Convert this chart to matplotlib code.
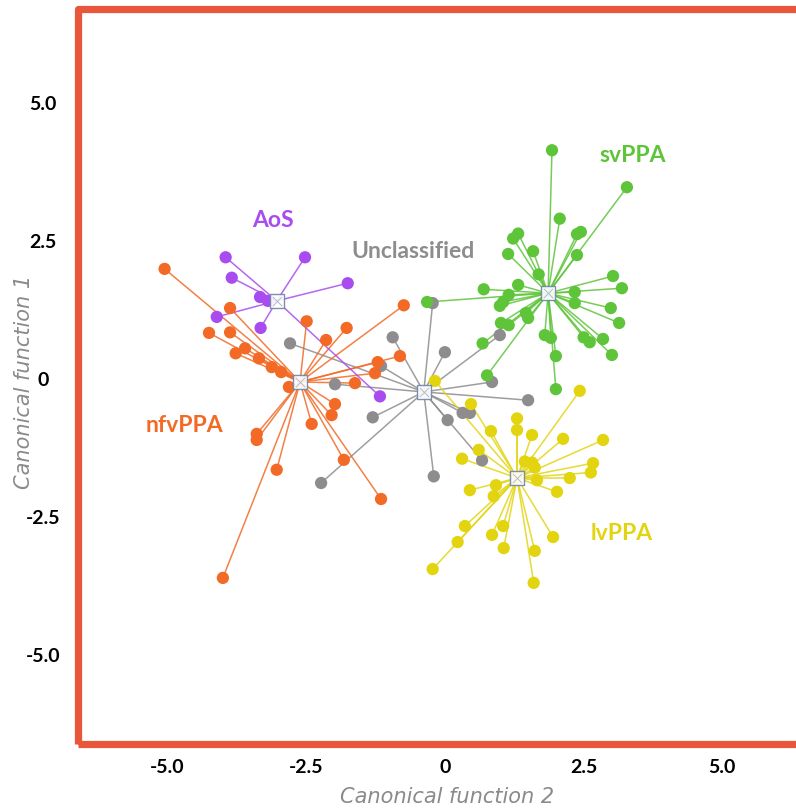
import numpy as np
import matplotlib
matplotlib.use("Agg")
import matplotlib.pyplot as plt
from matplotlib.patches import Rectangle

# group centroids (canonical function 2, canonical function 1)
centroids = {
    "AoS": (-3.03, 1.41),
    "nfvPPA": (-2.61, -0.06),
    "Unclassified": (-0.38, -0.24),
    "svPPA": (1.86, 1.55),
    "lvPPA": (1.30, -1.80),
}

aos_x = [-3.95, -2.52, -3.84, -3.33, -3.19, -4.11, -3.32, -1.75, -1.17]
aos_y = [2.20, 2.20, 1.83, 1.48, 1.41, 1.12, 0.92, 1.73, -0.32]

nfv_x = [-5.05, -3.87, -2.49, -4.25, -3.87, -3.60, -3.77, -3.35, -3.12, -2.95,
         -2.81, -1.77, -2.14, -0.74, -0.81, -1.21, -1.26, -1.62, -1.98, -2.04,
         -2.40, -3.39, -3.39, -3.03, -1.82, -1.15, -4.00]
nfv_y = [1.99, 1.28, 1.04, 0.83, 0.84, 0.55, 0.46, 0.37, 0.21, 0.12,
         -0.15, 0.92, 0.70, 1.33, 0.41, 0.30, 0.10, -0.08, -0.46, -0.66,
         -0.82, -1.00, -1.11, -1.65, -1.47, -2.18, -3.61]

unc_x = [-0.22, -0.94, 0.00, -2.79, -1.15, -1.98, 0.99, 0.85, 1.50, -1.30,
         0.05, 0.32, 0.45, 0.67, -0.20, -2.23]
unc_y = [1.37, 0.75, 0.48, 0.64, 0.23, -0.10, 0.79, -0.06, -0.39, -0.70,
         -0.75, -0.62, -0.62, -1.48, -1.77, -1.89]

sv_x = [1.93, 3.28, 2.07, 1.32, 1.23, 2.38, 2.45, 1.59, 1.14, 2.38,
        1.69, 3.03, 3.19, 0.70, 1.32, 1.15, 1.05, 0.99, 2.34, 2.34,
        2.99, 3.14, 1.46, 1.50, 1.01, 1.15, 0.68, 1.80, 1.91, 2.50,
        2.61, 2.85, 3.01, 2.00, 0.76, 2.00, -0.32]
sv_y = [4.14, 3.47, 2.90, 2.63, 2.54, 2.62, 2.66, 2.31, 2.26, 2.24,
        1.89, 1.86, 1.64, 1.62, 1.70, 1.52, 1.39, 1.32, 1.57, 1.37,
        1.28, 1.01, 1.19, 1.10, 1.01, 0.97, 0.64, 0.79, 0.74, 0.75,
        0.66, 0.72, 0.43, 0.41, 0.06, -0.19, 1.39]

lv_x = [2.43, 0.47, 1.30, 1.30, 0.83, 1.57, 2.13, 2.85, 0.61, 0.31,
        1.44, 1.57, 1.62, 2.67, 2.63, 2.25, 1.66, 2.02, 0.92, 0.88,
        0.45, 0.36, 1.05, 0.85, 1.95, 0.23, 1.06, 1.62, -0.22, 1.60, -0.18]
lv_y = [-0.22, -0.46, -0.72, -0.93, -0.95, -1.02, -1.09, -1.11, -1.29, -1.45,
        -1.50, -1.52, -1.61, -1.53, -1.70, -1.80, -1.84, -2.05, -1.93, -2.13,
        -2.02, -2.67, -2.67, -2.83, -2.87, -2.96, -3.07, -3.12, -3.45, -3.70, -0.04]

groups = [
    ("Unclassified", unc_x, unc_y, "#8f8c8f"),
    ("nfvPPA", nfv_x, nfv_y, "#f26a25"),
    ("AoS", aos_x, aos_y, "#a84cf0"),
    ("svPPA", sv_x, sv_y, "#5ec43a"),
    ("lvPPA", lv_x, lv_y, "#e3d410"),
]

label_pos = {
    "AoS": (-3.10, 2.87),
    "Unclassified": (-0.58, 2.31),
    "svPPA": (3.39, 4.05),
    "nfvPPA": (-4.70, -0.84),
    "lvPPA": (3.19, -2.80),
}

xticks = [-5.0, -2.5, 0, 2.5, 5.0]
yticks = [5.0, 2.5, 0, -2.5, -5.0]
ticklabels = ["-5.0", "-2.5", "0", "2.5", "5.0"]

fig = plt.figure(figsize=(7.96, 8.08), dpi=100)
ax = fig.add_axes([0.098, 0.0792, 0.912, 0.9097])

# spokes from each point to the group centroid
for name, xs, ys, col in groups:
    cx, cy = centroids[name]
    for x, y in zip(xs, ys):
        ax.plot([cx, x], [cy, y], color=col, lw=1.1, alpha=0.85, zorder=2)

for name, xs, ys, col in groups:
    ax.scatter(xs, ys, s=78, color=col, edgecolors="none", zorder=3)

for name, (cx, cy) in centroids.items():
    ax.scatter([cx], [cy], marker="s", s=95, facecolors="white",
               edgecolors="#6f85a6", linewidths=1.0, zorder=4, alpha=0.9)
    ax.scatter([cx], [cy], marker="x", s=45, color="#a9b5c8", linewidths=0.6, zorder=5)

for name, xs, ys, col in groups:
    lx, ly = label_pos[name]
    ax.text(lx, ly, name, color=col, fontsize=16.5, fontweight="bold",
            family="Lato", ha="center", va="center", zorder=6)

ax.set_xlim(-6.61, 6.47)
ax.set_ylim(-6.62, 6.70)

for s in ax.spines.values():
    s.set_visible(False)
ax.add_patch(Rectangle((0, 0), 1, 1, transform=ax.transAxes, fill=False,
                       edgecolor="#e8573a", lw=5.2, joinstyle="round",
                       clip_on=False, zorder=10))

ax.set_xticks(xticks)
ax.set_xticklabels(ticklabels, fontsize=14, fontweight="bold", family="Lato")
ax.set_yticks(yticks)
ax.set_yticklabels(["5.0", "2.5", "0", "-2.5", "-5.0"], fontsize=14,
                   fontweight="bold", family="Lato")
ax.tick_params(axis="x", length=0, pad=11)
ax.tick_params(axis="y", length=0, pad=25)
for lab in ax.get_yticklabels():
    lab.set_ha("center")

fig.text(447 / 796, 1 - 797 / 808, "Canonical function 2", color="#8a8a8a",
         fontsize=15, style="italic", ha="center", va="center")
fig.text(24 / 796, 1 - 382 / 808, "Canonical function 1", color="#8a8a8a",
         fontsize=15, style="italic", ha="center", va="center", rotation=90)

fig.savefig("out.png", dpi=100, facecolor="white")
